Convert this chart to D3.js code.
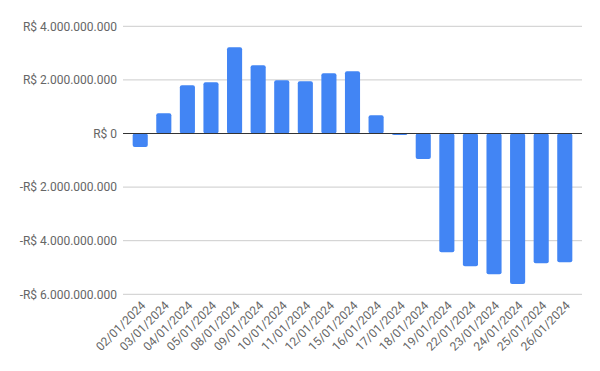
<!DOCTYPE html>
<html>
<head>
<meta charset="utf-8">
<script src="https://cdn.jsdelivr.net/npm/d3@7"></script>
<style>
  body { margin: 0; background: #fff; }
  svg { font-family: Roboto, Arial, sans-serif; }
</style>
</head>
<body>
<svg id="chart" width="600" height="371"></svg>
<script>
// dates and daily values (R$)
let dates = ['02/01/2024', '03/01/2024', '04/01/2024', '05/01/2024', '08/01/2024',
    '09/01/2024', '10/01/2024', '11/01/2024', '12/01/2024', '15/01/2024',
    '16/01/2024', '17/01/2024', '18/01/2024', '19/01/2024', '22/01/2024',
    '23/01/2024', '24/01/2024', '25/01/2024', '26/01/2024'];
let values = [-0.50e9, 0.76e9, 1.80e9, 1.91e9, 3.22e9,
    2.55e9, 1.99e9, 1.95e9, 2.25e9, 2.32e9,
    0.68e9, -0.06e9, -0.95e9, -4.43e9, -4.95e9,
    -5.25e9, -5.62e9, -4.84e9, -4.80e9];
let yTicks = [-6e9, -4e9, -2e9, 0, 2e9, 4e9];

let svg = d3.select('#chart');

let plotLeft = 123, plotRight = 582, plotTop = 26.3, plotBottom = 294.3;

let x = d3.scaleBand()
    .domain(dates)
    .range([plotLeft, plotRight])
    .paddingInner(0.36)
    .paddingOuter(0.41);

let y = d3.scaleLinear()
    .domain([-6e9, 4e9])
    .range([plotBottom, plotTop]);

let fmt = v => {
    let s = d3.format(',')(Math.abs(v)).replace(/,/g, '.');
    return (v < 0 ? '-' : '') + 'R$ ' + s;
};

// gridlines
svg.append('g')
    .selectAll('line')
    .data(yTicks.filter(d => d !== 0))
    .join('line')
    .attr('x1', plotLeft)
    .attr('x2', plotRight)
    .attr('y1', d => y(d))
    .attr('y2', d => y(d))
    .attr('stroke', '#cccccc')
    .attr('stroke-width', 1);

// y labels
svg.append('g')
    .selectAll('text')
    .data(yTicks)
    .join('text')
    .attr('x', 117)
    .attr('y', d => y(d))
    .attr('dy', '0.35em')
    .attr('text-anchor', 'end')
    .attr('font-size', 12)
    .attr('fill', '#666')
    .text(fmt);

// bars
svg.append('g')
    .selectAll('rect')
    .data(values)
    .join('rect')
    .attr('x', (d, i) => x(dates[i]))
    .attr('width', x.bandwidth())
    .attr('y', d => y(Math.max(0, d)))
    .attr('height', d => Math.abs(y(d) - y(0)))
    .attr('rx', 2)
    .attr('fill', '#4285f4');

// zero baseline
svg.append('line')
    .attr('x1', plotLeft)
    .attr('x2', plotRight)
    .attr('y1', y(0))
    .attr('y2', y(0))
    .attr('stroke', '#333')
    .attr('stroke-width', 1);

// x labels
svg.append('g')
    .selectAll('text')
    .data(dates)
    .join('text')
    .attr('transform', d => `translate(${x(d) + x.bandwidth() / 2 + 6},${plotBottom + 12}) rotate(-45)`)
    .attr('text-anchor', 'end')
    .attr('font-size', 12)
    .attr('fill', '#666')
    .text(d => d);
</script>
</body>
</html>
